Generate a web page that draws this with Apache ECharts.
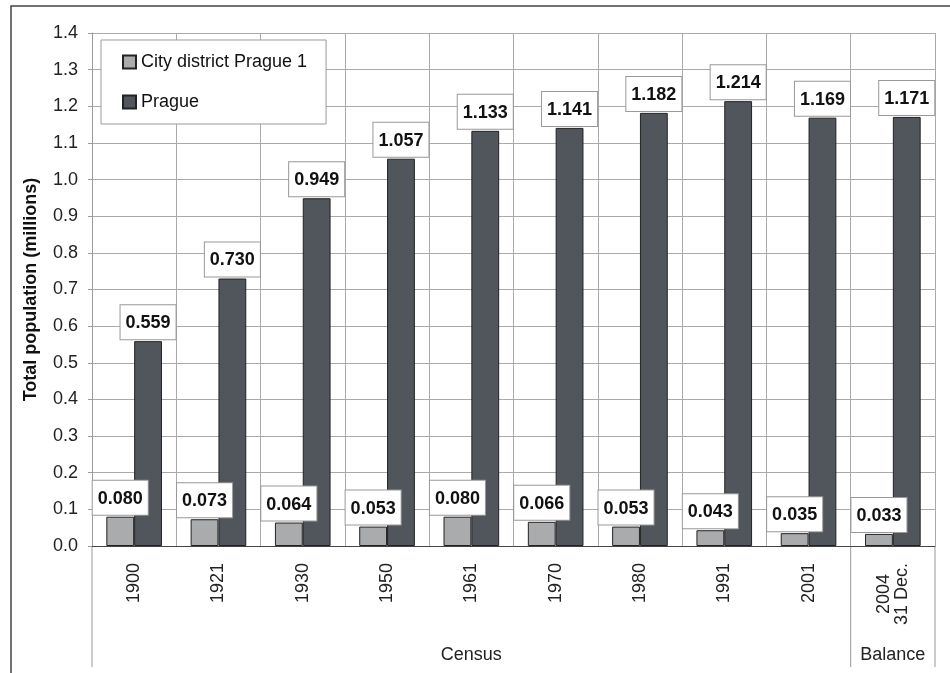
<!DOCTYPE html>
<html>
<head>
<meta charset="utf-8">
<script src="https://cdn.jsdelivr.net/npm/echarts@6/dist/echarts.min.js"></script>
<style>
  html, body { margin: 0; padding: 0; background: #fff; }
  #chart { width: 950px; height: 673px; }
</style>
</head>
<body>
<div id="chart"></div>
<script>
// Population of Prague and its first city district (millions)
const years = ['1900', '1921', '1930', '1950', '1961', '1970', '1980', '1991', '2001', '2004\n31 Dec.'];
const district = [0.080, 0.073, 0.064, 0.053, 0.080, 0.066, 0.053, 0.043, 0.035, 0.033];
const prague = [0.559, 0.730, 0.949, 1.057, 1.133, 1.141, 1.182, 1.214, 1.169, 1.171];
// Category groups drawn under the year labels: [name, first index, end index]
const groups = [['Census', 0, 9], ['Balance', 9, 10]];

const FONT = '"Liberation Sans", Arial, sans-serif';
const chart = echarts.init(document.getElementById('chart'), null, { renderer: 'canvas' });

const valueLabel = {
  show: true,
  position: 'top',
  distance: 2,
  formatter: p => p.value.toFixed(3),
  fontFamily: FONT,
  fontSize: 18,
  fontWeight: 'bold',
  color: '#111',
  backgroundColor: '#fff',
  borderColor: '#999',
  borderWidth: 1,
  padding: [9, 5, 7, 5]
};

chart.setOption({
  backgroundColor: '#fff',
  animation: false,
  textStyle: { fontFamily: FONT },
  grid: { left: 92, right: 15, top: 33, bottom: 127, containLabel: false },
  legend: {
    orient: 'vertical',
    left: 101,
    top: 40,
    padding: [13, 19, 13, 21],
    itemGap: 22,
    itemWidth: 13,
    itemHeight: 13,
    icon: 'rect',
    backgroundColor: '#fff',
    borderColor: '#999',
    borderWidth: 1,
    borderRadius: 0,
    textStyle: { fontFamily: FONT, fontSize: 18, color: '#111' },
    data: ['City district Prague 1', 'Prague']
  },
  xAxis: {
    type: 'category',
    data: years,
    boundaryGap: true,
    axisLine: { show: true, lineStyle: { color: '#444', width: 1 } },
    axisTick: { show: false },
    splitLine: { show: true, interval: 0, lineStyle: { color: '#aaa', width: 1 } },
    axisLabel: {
      interval: 0,
      rotate: 90,
      margin: 17,
      fontFamily: FONT,
      fontSize: 18,
      color: '#222',
      formatter: v => v.indexOf('\n') >= 0
        ? v.split('\n').map(s => '{c|' + s + '}').join('\n')
        : v,
      rich: { c: { align: 'center', fontFamily: FONT, fontSize: 18, color: '#222' } }
    }
  },
  yAxis: {
    type: 'value',
    min: 0,
    max: 1.4,
    interval: 0.1,
    name: 'Total population (millions)',
    nameLocation: 'middle',
    nameRotate: 90,
    nameGap: 52,
    nameTextStyle: { fontFamily: FONT, fontSize: 18, fontWeight: 'bold', color: '#111' },
    axisLine: { show: true, lineStyle: { color: '#999', width: 1 } },
    axisTick: { show: true, length: 4, lineStyle: { color: '#999' } },
    splitLine: { show: true, lineStyle: { color: '#aaa', width: 1 } },
    axisLabel: {
      margin: 14,
      fontFamily: FONT,
      fontSize: 18,
      color: '#222',
      formatter: v => v.toFixed(1)
    }
  },
  series: [
    {
      name: 'City district Prague 1',
      type: 'bar',
      data: district,
      barWidth: '33%',
      barGap: '0%',
      itemStyle: { color: '#a9abad', borderColor: '#222', borderWidth: 1 },
      label: valueLabel
    },
    {
      name: 'Prague',
      type: 'bar',
      data: prague,
      barWidth: '33%',
      barGap: '0%',
      itemStyle: { color: '#50565c', borderColor: '#222', borderWidth: 1 },
      label: valueLabel
    }
  ]
});

// Group separators and group names below the category labels
function drawGroups() {
  const c0 = chart.convertToPixel({ xAxisIndex: 0 }, 0);
  const c1 = chart.convertToPixel({ xAxisIndex: 0 }, 1);
  const band = c1 - c0;
  const edge = i => c0 - band / 2 + i * band;
  const y0 = chart.convertToPixel({ yAxisIndex: 0 }, 0);
  const lineBottom = y0 + 121;
  const labelY = y0 + 109;
  const elements = [];
  const cuts = new Set();
  groups.forEach(([name, a, b]) => {
    cuts.add(a); cuts.add(b);
    elements.push({
      type: 'text',
      x: (edge(a) + edge(b)) / 2,
      y: labelY,
      style: {
        text: name,
        fontFamily: FONT,
        fontSize: 18,
        fill: '#222',
        align: 'center',
        verticalAlign: 'middle'
      },
      silent: true
    });
  });
  cuts.forEach(i => {
    elements.push({
      type: 'line',
      shape: { x1: edge(i), y1: y0, x2: edge(i), y2: lineBottom },
      style: { stroke: '#999', lineWidth: 1 },
      silent: true
    });
  });
  // Outer frame around the whole figure
  elements.push({
    type: 'rect',
    shape: { x: 11, y: 6, width: 960, height: 700 },
    style: { fill: 'none', stroke: '#444', lineWidth: 1.5 },
    silent: true,
    z: -10
  });
  chart.setOption({ graphic: { elements } });
}
drawGroups();
</script>
</body>
</html>
